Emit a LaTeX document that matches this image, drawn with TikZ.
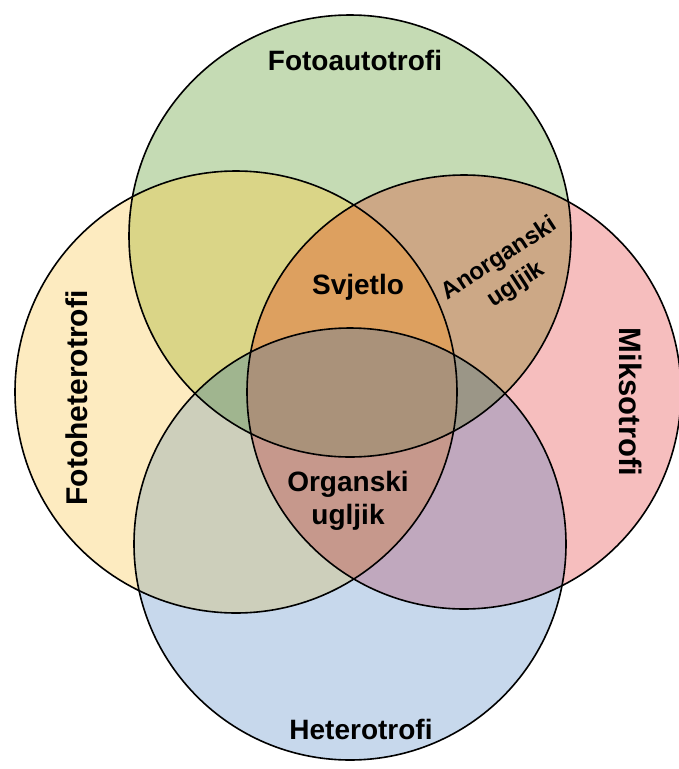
\documentclass[tikz,border=0pt]{standalone}
\usepackage{fontspec}
\setmainfont{Liberation Sans}
\begin{document}
\begin{tikzpicture}[x={(1pt,0)},y={(0,-1pt)},
  lbl/.style={font=\bfseries\fontsize{28}{33}\selectfont, inner sep=0pt, align=center},
  ring/.style={draw=black, line width=1.6pt}]
\useasboundingbox (0,0) rectangle (678,769);
\def\CircG{(350,236) circle (221pt)}
\def\CircY{(236,392) circle (221pt)}
\def\CircP{(464,392) circle (217pt)}
\def\CircB{(350,544) circle (216pt)}
\definecolor{cG}{RGB}{197,219,180}
\definecolor{cY}{RGB}{253,235,192}
\definecolor{cP}{RGB}{246,190,190}
\definecolor{cB}{RGB}{199,216,236}
\definecolor{cGY}{RGB}{218,213,135}
\definecolor{cGP}{RGB}{204,168,134}
\definecolor{cGB}{RGB}{165,175,150}
\definecolor{cYP}{RGB}{200,160,140}
\definecolor{cYB}{RGB}{205,207,187}
\definecolor{cPB}{RGB}{192,168,190}
\definecolor{cGYP}{RGB}{221,160,95}
\definecolor{cGYB}{RGB}{160,181,143}
\definecolor{cGPB}{RGB}{155,150,135}
\definecolor{cYPB}{RGB}{198,152,140}
\definecolor{cAll}{RGB}{170,146,122}
% single
\fill[cG] \CircG;
\fill[cY] \CircY;
\fill[cP] \CircP;
\fill[cB] \CircB;
% pairs
\begin{scope}\clip \CircG; \fill[cGY] \CircY; \end{scope}
\begin{scope}\clip \CircG; \fill[cGP] \CircP; \end{scope}
\begin{scope}\clip \CircG; \fill[cGB] \CircB; \end{scope}
\begin{scope}\clip \CircY; \fill[cYP] \CircP; \end{scope}
\begin{scope}\clip \CircY; \fill[cYB] \CircB; \end{scope}
\begin{scope}\clip \CircP; \fill[cPB] \CircB; \end{scope}
% triples
\begin{scope}\clip \CircG; \clip \CircY; \fill[cGYP] \CircP; \end{scope}
\begin{scope}\clip \CircG; \clip \CircY; \fill[cGYB] \CircB; \end{scope}
\begin{scope}\clip \CircG; \clip \CircP; \fill[cGPB] \CircB; \end{scope}
\begin{scope}\clip \CircY; \clip \CircP; \fill[cYPB] \CircB; \end{scope}
% all four
\begin{scope}\clip \CircG; \clip \CircY; \clip \CircP; \fill[cAll] \CircB; \end{scope}
% outlines
\draw[ring] \CircG;
\draw[ring] \CircY;
\draw[ring] \CircP;
\draw[ring] \CircB;
% labels
\node[lbl] (fa) at (355,60) {Fotoautotrofi};
\node[lbl] (he) at (361,729) {Heterotrofi};
\node[lbl] (sv) at (358,287) {Svjetlo};
\node[lbl] (or) at (348,501) {Organski\\ugljik};
\node[lbl, font=\bfseries\fontsize{24}{31}\selectfont, rotate=33] (an) at (508,272) {Anorganski\\ugljik};
\node[lbl, font=\bfseries\fontsize{30}{34}\selectfont, rotate=90] (fh) at (77,398) {Fotoheterotrofi};
\node[lbl, font=\bfseries\fontsize{31}{34}\selectfont, rotate=-90] (mi) at (631,402) {Miksotrofi};
\end{tikzpicture}
\end{document}
